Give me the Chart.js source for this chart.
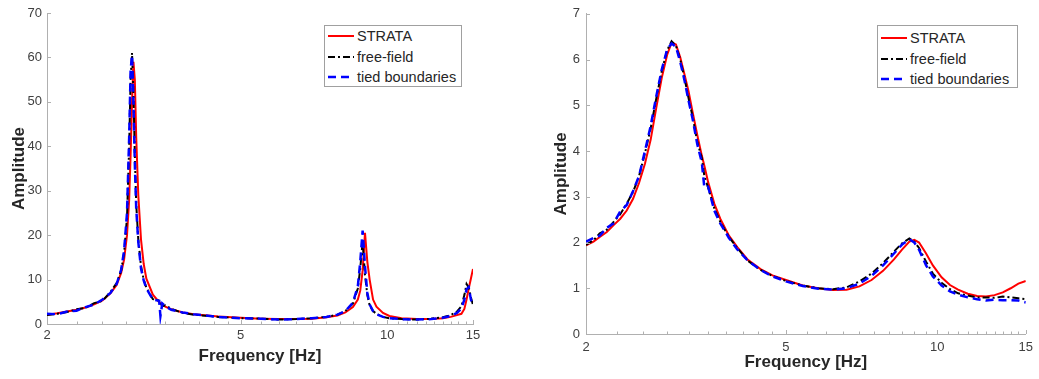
<!DOCTYPE html>
<html>
<head>
<meta charset="utf-8">
<script src="https://cdn.jsdelivr.net/npm/chart.js@4.4.0/dist/chart.umd.min.js"></script>
<style>
  body { margin: 0; background: #fff; width: 1039px; height: 379px; overflow: hidden; position: relative;
         font-family: "Liberation Sans", Arial, sans-serif; }
  .box { position: absolute; top: 0; height: 379px; }
  .legend { position: absolute; background: #fff; border: 1px solid #a0a0a0; font-size: 14.5px; color: #262626; }
  .legend .row { display: flex; align-items: center; height: 20.5px; white-space: nowrap; }
  .legend svg { margin: 0 3px 0 3px; }
</style>
</head>
<body>
<div class="box" style="left:0;width:490px"><canvas id="left"></canvas></div>
<div class="box" style="left:530px;width:509px"><canvas id="right"></canvas></div>

<div class="legend" id="legLeft" style="left:324px;top:25px;width:136px;height:60px"></div>
<div class="legend" id="legRight" style="left:877px;top:25px;width:141px;height:63px;padding-top:2px;box-sizing:border-box"></div>

<script>
// left panel: frequency [Hz] and amplitudes
const freqA = [2.0, 2.1, 2.2, 2.3, 2.4, 2.5, 2.6, 2.7, 2.78, 2.84,
  2.88, 2.92, 2.95, 2.97, 2.99, 3.01, 3.03, 3.05, 3.08, 3.12,
  3.16, 3.2, 3.3, 3.4, 3.42, 3.45, 3.5, 3.6, 3.8, 4.0,
  4.5, 5.0, 5.5, 6.0, 6.5, 7.0, 7.5, 7.9, 8.2, 8.5,
  8.7, 8.8, 8.9, 9.0, 9.1, 9.2, 9.35, 9.5, 9.8, 10.1,
  10.7, 11.5, 12.3, 13.0, 13.5, 13.9, 14.2, 14.4, 14.55, 14.7,
  14.85, 15.0];
const strataA = [2.1, 2.4, 2.8, 3.2, 3.7, 4.4, 5.3, 6.9, 8.8, 11.5,
  14.5, 20, 28, 38, 50, 59, 55, 42, 29, 19,
  13.5, 10.2, 6.6, 4.9, 4.7, 4.4, 3.9, 3.3, 2.6, 2.2,
  1.7, 1.4, 1.2, 1.1, 1.1, 1.2, 1.5, 1.9, 2.6, 3.8,
  5.5, 7.5, 12, 20.5, 14, 10, 5.5, 3.9, 2.5, 1.8,
  1.3, 1.1, 1.1, 1.3, 1.6, 2.0, 2.3, 3.4, 5.5, 8.0,
  10.2, 12.4];
const freeA = [2.0, 2.3, 2.7, 3.3, 3.6, 4.7, 5.2, 7.2, 9.2, 12.0,
  16, 24, 40, 55, 61, 52, 38, 27, 19, 13,
  10, 8.2, 5.6, 5.3, 4.8, 4.0, 4.2, 3.4, 2.5, 2.1,
  1.6, 1.3, 1.2, 1.0, 1.1, 1.3, 1.6, 2.1, 2.9, 4.6,
  8.0, 12.5, 18.5, 11, 6.5, 4.2, 2.9, 2.3, 1.6, 1.3,
  1.1, 1.0, 1.2, 1.5, 2.0, 2.8, 4.0, 6.5, 9.0, 8.2,
  6.0, 4.3];
const tiedA = [2.3, 2.2, 2.8, 3.0, 3.8, 4.4, 5.5, 7.0, 9.0, 12.2,
  16.5, 25, 42, 57, 60.5, 50, 36, 26, 18.5, 12.5,
  9.8, 8.0, 5.5, 5.2, 1.8, 4.6, 4.0, 3.2, 2.6, 2.2,
  1.6, 1.3, 1.2, 1.0, 1.1, 1.3, 1.6, 2.1, 2.9, 4.8,
  8.5, 14, 21, 13, 7, 4.4, 2.9, 2.2, 1.6, 1.3,
  1.1, 1.0, 1.1, 1.4, 1.8, 2.5, 3.5, 5.5, 7.8, 8.3,
  5.5, 4.0];

// right panel
const freqB = [2.0, 2.07, 2.13, 2.2, 2.27, 2.34, 2.41, 2.48, 2.55, 2.62,
  2.69, 2.76, 2.83, 2.9, 2.96, 3.02, 3.08, 3.14, 3.2, 3.26,
  3.33, 3.4, 3.44, 3.5, 3.6, 3.7, 3.85, 4.0, 4.2, 4.45,
  4.7, 5.0, 5.4, 5.8, 6.2, 6.6, 7.0, 7.4, 7.8, 8.2,
  8.5, 8.8, 9.0, 9.2, 9.5, 9.8, 10.2, 10.6, 11.0, 11.5,
  12.0, 12.5, 13.0, 13.5, 14.0, 14.5, 15.0];
const strataB = [1.94, 2.02, 2.12, 2.23, 2.38, 2.52, 2.70, 2.95, 3.30, 3.72,
  4.25, 4.95, 5.60, 6.10, 6.37, 6.33, 6.05, 5.68, 5.30, 4.85,
  4.35, 3.90, 3.68, 3.32, 2.85, 2.52, 2.15, 1.90, 1.62, 1.42,
  1.28, 1.18, 1.06, 1.00, 0.96, 0.97, 1.04, 1.18, 1.38, 1.63,
  1.84, 2.02, 2.06, 2.00, 1.76, 1.50, 1.24, 1.07, 0.97, 0.88,
  0.83, 0.82, 0.85, 0.91, 1.00, 1.10, 1.16];
const freeB = [1.95, 2.05, 2.2, 2.28, 2.45, 2.62, 2.85, 3.1, 3.45, 3.95,
  4.5, 5.15, 5.75, 6.2, 6.4, 6.3, 6.0, 5.6, 5.15, 4.75,
  4.2, 3.85, 3.45, 3.2, 2.75, 2.45, 2.12, 1.88, 1.6, 1.4,
  1.27, 1.16, 1.06, 1.0, 0.98, 1.02, 1.15, 1.32, 1.55, 1.8,
  1.98, 2.09, 2.02, 1.88, 1.58, 1.32, 1.12, 0.98, 0.89, 0.84,
  0.8, 0.8, 0.79, 0.82, 0.8, 0.78, 0.76];
const tiedB = [2.02, 2.1, 2.15, 2.32, 2.42, 2.68, 2.82, 3.12, 3.45, 4.0,
  4.55, 5.2, 5.78, 6.22, 6.35, 6.28, 5.95, 5.55, 5.1, 4.7,
  4.15, 3.75, 3.2, 3.22, 2.7, 2.42, 2.1, 1.85, 1.6, 1.4,
  1.26, 1.15, 1.05, 0.99, 0.97, 1.0, 1.1, 1.27, 1.5, 1.76,
  1.95, 2.07, 2.0, 1.84, 1.5, 1.26, 1.06, 0.93, 0.86, 0.8,
  0.76, 0.73, 0.75, 0.74, 0.74, 0.73, 0.69];

const xTickLabels = [2, 5, 10, 15];
const xMinorTicks = [2.3, 2.6, 2.9, 3.2, 3.5, 3.8, 4.1, 4.4, 4.7,
  5.5, 6, 6.5, 7, 7.5, 8, 8.5, 9, 9.5,
  10.5, 11, 11.5, 12, 12.5, 13, 13.5, 14, 14.5];
const seriesNames = ['STRATA', 'free-field', 'tied boundaries'];

const AXIS = '#b0b0b0';
const TEXT = '#404040';
const styles = [
  { color: '#ff0000', width: 2, dash: [] },
  { color: '#000000', width: 2, dash: [7, 3, 2, 3] },
  { color: '#0000ff', width: 2.5, dash: [8, 5] }
];

function pts(xs, ys) {
  return xs.map((x, i) => ({ x: x, y: ys[i] }));
}

// matlab style ticks pointing into the plot
const inwardTicks = {
  id: 'inwardTicks',
  afterDraw(chart) {
    const ctx = chart.ctx, a = chart.chartArea;
    const xs = chart.scales.x, ys = chart.scales.y;
    ctx.save();
    ctx.strokeStyle = AXIS;
    ctx.lineWidth = 1;
    xs.ticks.forEach(t => {
      const px = Math.round(xs.getPixelForValue(t.value)) + 0.5;
      const len = xTickLabels.includes(t.value) ? 4 : 2.5;
      ctx.beginPath(); ctx.moveTo(px, a.bottom); ctx.lineTo(px, a.bottom - len); ctx.stroke();
    });
    ys.ticks.forEach(t => {
      const py = Math.round(ys.getPixelForValue(t.value)) + 0.5;
      ctx.beginPath(); ctx.moveTo(a.left, py); ctx.lineTo(a.left + 4, py); ctx.stroke();
    });
    ctx.restore();
  }
};

function makeChart(id, xs, series, yMax, yStep, o) {
  const datasets = series.map((ys, i) => ({
    label: seriesNames[i],
    data: pts(xs, ys),
    borderColor: styles[i].color,
    borderWidth: styles[i].width,
    borderDash: styles[i].dash,
    pointRadius: 0,
    tension: 0,
    fill: false,
    order: 3 - i
  }));
  return new Chart(document.getElementById(id), {
    type: 'line',
    data: { datasets: datasets },
    plugins: [inwardTicks],
    options: {
      responsive: true,
      maintainAspectRatio: false,
      animation: false,
      layout: { padding: { top: 13, right: o.padRight, bottom: 0, left: 0 } },
      plugins: { legend: { display: false }, tooltip: { enabled: false } },
      scales: {
        x: {
          type: 'logarithmic',
          min: 2, max: 15,
          afterBuildTicks: s => {
            s.ticks = xTickLabels.concat(xMinorTicks).sort((a, b) => a - b).map(v => ({ value: v }));
          },
          afterFit: s => { s.height = o.xHeight; },
          grid: { display: false, drawTicks: false },
          border: { color: AXIS, width: 1 },
          ticks: {
            autoSkip: false, maxRotation: 0, padding: o.xTickPad,
            color: TEXT, font: { family: 'Liberation Sans', size: 13 },
            callback: v => xTickLabels.includes(v) ? String(v) : ''
          },
          title: {
            display: true, text: 'Frequency [Hz]', color: '#262626',
            font: { family: 'Liberation Sans', size: 17, weight: 'bold' },
            padding: { top: 0, bottom: o.xTitlePad }
          }
        },
        y: {
          min: 0, max: yMax,
          afterFit: s => { s.width = o.yWidth; },
          grid: { display: false, drawTicks: false },
          border: { color: AXIS, width: 1 },
          ticks: {
            stepSize: yStep, padding: o.yTickPad,
            color: TEXT, font: { family: 'Liberation Sans', size: 13 }
          },
          title: {
            display: true, text: 'Amplitude', color: '#262626',
            font: { family: 'Liberation Sans', size: 17, weight: 'bold' },
            padding: { top: o.yTitlePad, bottom: 0 }
          }
        }
      }
    }
  });
}

makeChart('left', freqA, [strataA, freeA, tiedA], 70, 10,
  { padRight: 17, xHeight: 55, yWidth: 47, xTickPad: 4, yTickPad: 5, xTitlePad: 12, yTitlePad: 9 });
makeChart('right', freqB, [strataB, freeB, tiedB], 7, 1,
  { padRight: 8, xHeight: 45, yWidth: 56, xTickPad: 6, yTickPad: 6, xTitlePad: 6, yTitlePad: 21 });

// legends with matlab-like border
function buildLegend(id) {
  const el = document.getElementById(id);
  seriesNames.forEach((name, i) => {
    const row = document.createElement('div');
    row.className = 'row';
    const s = styles[i];
    row.innerHTML = '<svg width="26" height="4"><line x1="0" y1="2" x2="26" y2="2" stroke="' + s.color +
      '" stroke-width="' + s.width + '" stroke-dasharray="' + (s.dash.length ? s.dash.join(',') : 'none') +
      '"/></svg><span>' + name + '</span>';
    el.appendChild(row);
  });
}
buildLegend('legLeft');
buildLegend('legRight');
</script>
</body>
</html>
